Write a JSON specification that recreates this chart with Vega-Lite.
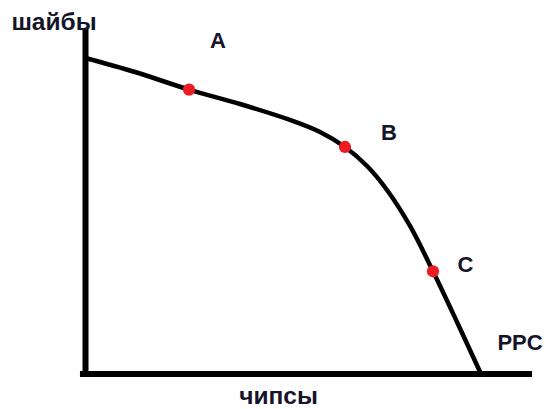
{
  "$schema": "https://vega.github.io/schema/vega-lite/v6.json",
  "width": 545,
  "height": 409,
  "autosize": {"type": "fit", "contains": "padding"},
  "padding": 0,
  "background": "white",
  "config": {"view": {"stroke": null}},
  "datasets": {
    "axes": [
      {"x": 0, "x2": 0, "y": -0.6, "y2": 109.5},
      {"x": -1.4, "x2": 112.9, "y": 0, "y2": 0}
    ],
    "curve": [
      {"chips": 0, "pucks": 100},
      {"chips": 12.52, "pucks": 95.57},
      {"chips": 26.17, "pucks": 90.0},
      {"chips": 39.06, "pucks": 85.44},
      {"chips": 51.71, "pucks": 80.38},
      {"chips": 59.29, "pucks": 76.58},
      {"chips": 65.61, "pucks": 71.84},
      {"chips": 71.18, "pucks": 65.82},
      {"chips": 76.23, "pucks": 58.23},
      {"chips": 82.05, "pucks": 46.84},
      {"chips": 87.86, "pucks": 32.5},
      {"chips": 93.93, "pucks": 16.46},
      {"chips": 100, "pucks": 0}
    ],
    "points": [
      {"name": "A", "chips": 26.17, "pucks": 90.0},
      {"name": "B", "chips": 65.61, "pucks": 71.84},
      {"name": "C", "chips": 87.86, "pucks": 32.5}
    ],
    "letters": [
      {"text": "A", "x": 33.5, "y": 103.16},
      {"text": "B", "x": 76.74, "y": 74.05},
      {"text": "C", "x": 96.08, "y": 32.28},
      {"text": "PPC", "x": 109.86, "y": 7.59}
    ],
    "titles": [
      {"text": "шайбы", "x": -7.96, "y": 108.86},
      {"text": "чипсы", "x": 48.8, "y": -9.49}
    ]
  },
  "layer": [
    {
      "data": {"name": "axes"},
      "mark": {"type": "rule", "color": "black", "strokeWidth": 6, "strokeCap": "butt"},
      "encoding": {
        "x": {"field": "x", "type": "quantitative", "scale": {"domain": [-21.62, 116.18], "nice": false, "zero": false}, "axis": null},
        "x2": {"field": "x2"},
        "y": {"field": "y", "type": "quantitative", "scale": {"domain": [-11.08, 118.35], "nice": false, "zero": false}, "axis": null},
        "y2": {"field": "y2"}
      }
    },
    {
      "data": {"name": "curve"},
      "mark": {"type": "line", "color": "black", "strokeWidth": 4.5, "interpolate": "catmull-rom"},
      "encoding": {
        "x": {"field": "chips", "type": "quantitative"},
        "y": {"field": "pucks", "type": "quantitative"}
      }
    },
    {
      "data": {"name": "points"},
      "mark": {"type": "circle", "color": "#ed1c24", "opacity": 1, "size": 150},
      "encoding": {
        "x": {"field": "chips", "type": "quantitative"},
        "y": {"field": "pucks", "type": "quantitative"}
      }
    },
    {
      "data": {"name": "letters"},
      "mark": {"type": "text", "font": "Liberation Sans", "fontWeight": "bold", "fontSize": 22, "color": "#14142a", "align": "center", "baseline": "alphabetic"},
      "encoding": {
        "x": {"field": "x", "type": "quantitative"},
        "y": {"field": "y", "type": "quantitative"},
        "text": {"field": "text"}
      }
    },
    {
      "data": {"name": "titles"},
      "mark": {"type": "text", "font": "Liberation Sans", "fontWeight": "bold", "fontSize": 24.5, "color": "#14142a", "align": "center", "baseline": "alphabetic"},
      "encoding": {
        "x": {"field": "x", "type": "quantitative"},
        "y": {"field": "y", "type": "quantitative"},
        "text": {"field": "text"}
      }
    }
  ]
}
